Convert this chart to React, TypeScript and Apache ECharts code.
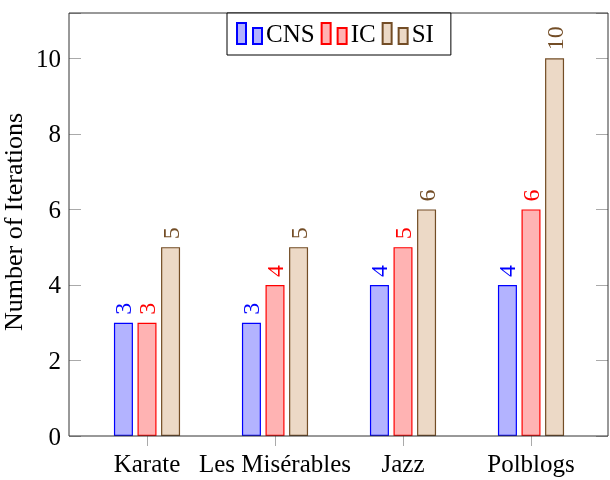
import React, { useEffect, useRef } from "react";
import * as echarts from "echarts";

const categories = ["Karate", "Les Misérables", "Jazz", "Polblogs"];
const cnsValues = [3, 3, 4, 4];
const icValues = [3, 4, 5, 6];
const siValues = [5, 5, 6, 10];
const yTicks = [0, 2, 4, 6, 8, 10];

const FONT = "Liberation Serif";

export default function App() {
  const ref = useRef<HTMLDivElement>(null);
  useEffect(() => {
    if (!ref.current) return;
    const chart = echarts.init(ref.current, undefined, { renderer: "svg" });
    const mkSeries = (name: string, data: number[], stroke: string, fill: string) => ({
      name,
      type: "bar",
      data,
      barWidth: 19,
      barGap: "24%",
      itemStyle: { color: fill, borderColor: stroke, borderWidth: 1.2 },
      label: {
        show: true,
        position: "top",
        rotate: 90,
        align: "left",
        verticalAlign: "middle",
        distance: 8,
        color: stroke,
        fontFamily: FONT,
        fontSize: 24,
        formatter: "{v|{c}}",
        rich: { v: { fontFamily: FONT, fontSize: 24, color: stroke } },
      },
    });
    const legendIcon = "path://M0,0H9V21H0Z M16,5H25V21H16Z";
    chart.setOption({
      animation: false,
      textStyle: { fontFamily: FONT },
      grid: { left: 83, right: 15, top: 13, bottom: 44 },
      legend: {
        data: [
          { name: "CNS", icon: legendIcon },
          { name: "IC", icon: legendIcon },
          { name: "SI", icon: legendIcon },
        ],
        left: 227,
        top: 13,
        itemWidth: 25,
        itemHeight: 21,
        itemGap: 6,
        padding: [8, 17, 9, 9],
        borderColor: "#000",
        borderWidth: 1,
        backgroundColor: "#fff",
        selectedMode: false,
        textStyle: { fontFamily: FONT, fontSize: 25, color: "#000", padding: [0, 0, 0, -1] },
        z: 10,
      },
      xAxis: [
        {
          type: "category",
          data: categories,
          axisLine: { show: false },
          axisTick: { show: true, alignWithLabel: true, inside: false, length: 10, lineStyle: { color: "#aaa" } },
          axisLabel: { interval: 0, hideOverlap: false, fontFamily: FONT, fontSize: 25, color: "#000", margin: 15 },
        },
        {
          type: "category",
          data: categories,
          position: "top",
          axisLine: { show: false },
          axisTick: { show: true, alignWithLabel: true, inside: false, length: 12, lineStyle: { color: "#aaa" } },
          axisLabel: { show: false },
        },
      ],
      yAxis: [
        {
          type: "value",
          min: 0,
          max: 11.2,
          interval: 2,
          offset: 14,
          axisLine: { show: false },
          splitLine: { show: false },
          axisTick: { show: true, inside: true, length: 12, lineStyle: { color: "#aaa" } },
          axisLabel: {
            fontFamily: FONT,
            fontSize: 25,
            color: "#000",
            margin: 8,
            customValues: yTicks,
          },
        },
        {
          type: "value",
          min: 0,
          max: 11.2,
          interval: 2,
          position: "right",
          offset: 13,
          axisLine: { show: false },
          splitLine: { show: false },
          axisTick: { show: true, inside: true, length: 12, lineStyle: { color: "#aaa" } },
          axisLabel: { show: false },
        },
      ],
      graphic: [
        {
          type: "rect",
          shape: { x: 69, y: 13, width: 539, height: 423 },
          style: { fill: "none", stroke: "#333", lineWidth: 1 },
          z: 5,
          silent: true,
        },
        {
          type: "text",
          x: 13,
          y: 222,
          rotation: Math.PI / 2,
          style: {
            text: "Number of Iterations",
            font: `26px ${FONT}`,
            fill: "#000",
            textAlign: "center",
            textVerticalAlign: "middle",
          },
        },
      ],
      series: [
        mkSeries("CNS", cnsValues, "#0000ff", "#b3b3ff"),
        mkSeries("IC", icValues, "#ff0000", "#ffb3b3"),
        mkSeries("SI", siValues, "#734d26", "#ecd9c6"),
      ],
    });
    return () => chart.dispose();
  }, []);
  return (
    <div
      ref={ref}
      style={{ position: "fixed", left: 0, top: 0, width: 610, height: 480 }}
    />
  );
}
